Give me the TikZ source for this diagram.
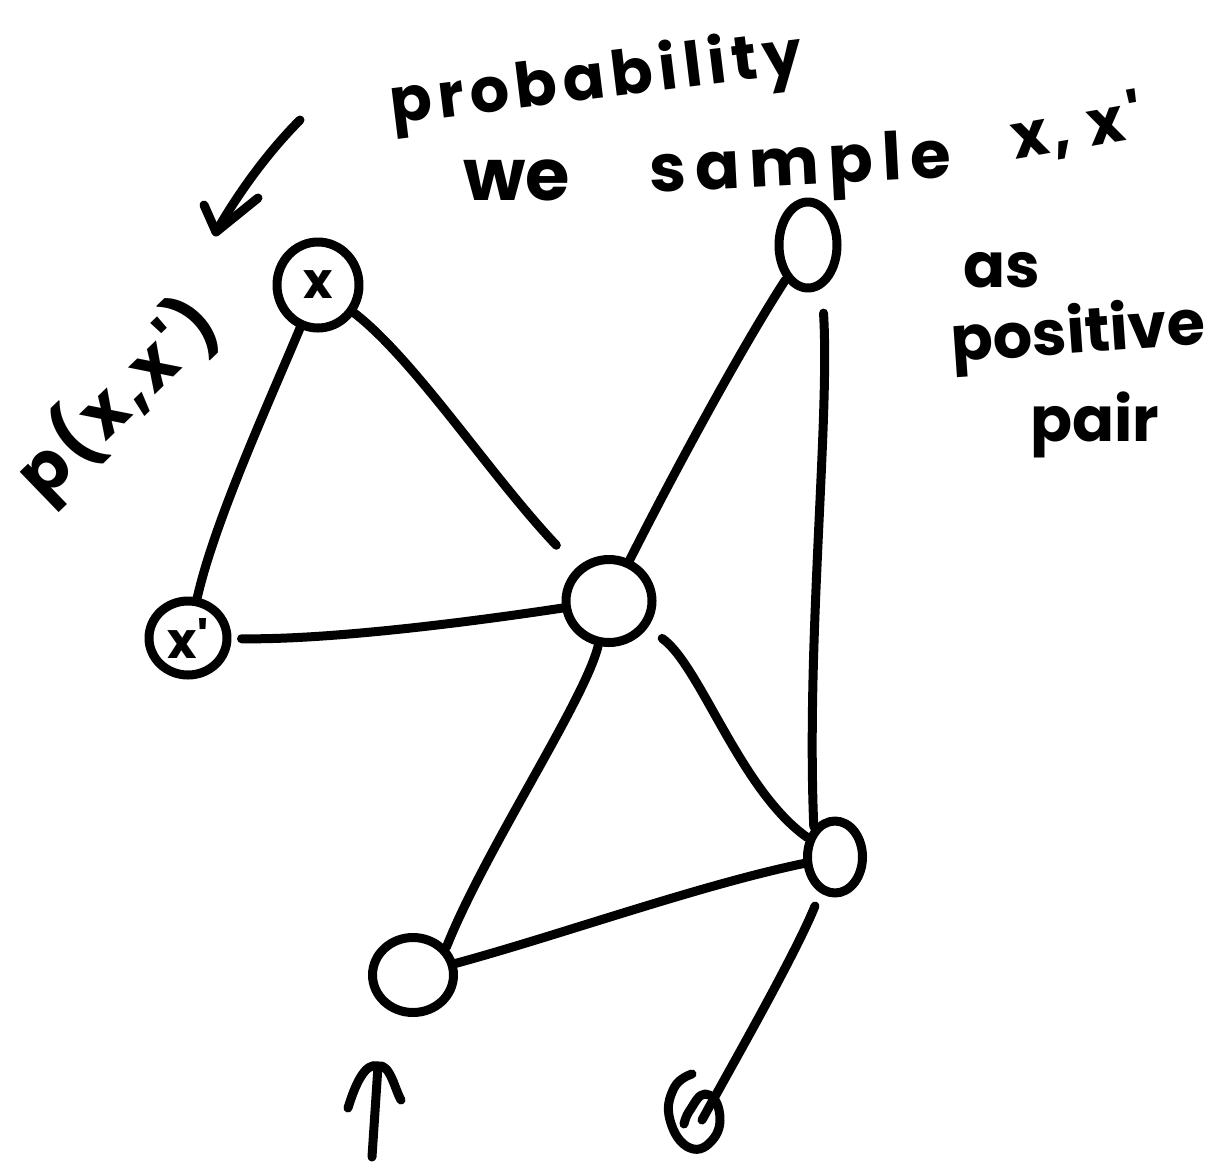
\documentclass[tikz,border=0pt]{standalone}
\usepackage{fontspec}
\newfontfamily\hw{Poppins}
\usetikzlibrary{shapes.geometric}
\newcommand{\hwsize}[2]{\hw\bfseries\fontsize{#1}{#1}\selectfont\addfontfeature{LetterSpace=#2}}
\begin{document}
\begin{tikzpicture}[x=1pt,y=-1pt,
  pen/.style={line width=9pt,line cap=round,line join=round},
  vert/.style={draw,ellipse,pen,inner sep=0pt,font=\hw\bfseries\fontsize{50}{50}\selectfont},
  hand/.style={inner sep=0pt,font=\hwsize{62}{0}},
]
\useasboundingbox (0,0) rectangle (1221,1163);

% vertices
\node[vert,minimum width=82pt,minimum height=86pt] (x) at (318,285) {x};
\node[vert,minimum width=78pt,minimum height=74pt] (xp) at (188,638) {x'};
\node[vert,minimum width=58pt,minimum height=86pt] (tr) at (808,245) {};
\node[vert,minimum width=86pt,minimum height=83pt] (c) at (609,601) {};
\node[vert,minimum width=55pt,minimum height=72pt] (r) at (835,857) {};
\node[vert,minimum width=81pt,minimum height=75pt] (bl) at (413,975) {};
\coordinate (lp) at (702,1120);

% edges
\draw[pen] (x) .. controls (270,400) and (215,520) .. (xp);
\draw[pen,shorten >=30pt] (x) .. controls (415,360) and (490,475) .. (c);
\draw[pen,shorten <=10pt] (xp) .. controls (330,640) and (470,622) .. (c);
\draw[pen] (c) .. controls (670,480) and (740,350) .. (tr);
\draw[pen,shorten <=25pt] (tr.-72) .. controls (830,420) and (806,640) .. (r.125);
\draw[pen,shorten <=18pt] (c) .. controls (700,665) and (740,790) .. (r);
\draw[pen] (c) .. controls (585,700) and (485,850) .. (bl.40);
\draw[pen] (bl) .. controls (560,935) and (700,885) .. (r);
\draw[pen,shorten <=14pt] (r) .. controls (795,955) and (735,1060) .. (lp);

% loop at the bottom
\draw[pen] plot[smooth,tension=0.8] coordinates {(692,1074) (674,1088) (670,1120) (690,1148) (714,1138) (719,1110) (705,1094) (690,1110) (684,1124)};

% arrow top-left
\coordinate (a1) at (300,120);
\coordinate (a2) at (216,232);
\draw[pen] (a1) .. controls (270,150) and (240,190) .. (a2);
\draw[pen] (204,205) -- (a2) -- (258,198);

% arrow bottom
\coordinate (b1) at (372,1157);
\coordinate (b2) at (378,1066);
\draw[pen] (b1) -- (b2);
\draw[pen] (348,1108) .. controls (355,1085) and (365,1062) .. (b2) .. controls (390,1063) and (395,1090) .. (401,1100);

% texts
\node[hand,font=\hwsize{62}{10},rotate=7,anchor=base west] (t1) at (392,124) {probability};
\node[hand,font=\hwsize{72}{0},anchor=base west] (t2) at (463,200) {we};
\node[hand,font=\hwsize{66}{14},rotate=3,anchor=base west] (t3) at (650,193) {sample};
\node[hand,font=\hwsize{62}{8},rotate=10,anchor=base west] (t4) at (1015,160) {x, x'};
\node[hand,anchor=base west] (t5) at (963,287) {as};
\node[hand,rotate=4,anchor=base west] (t6) at (952,362) {positive};
\node[hand,anchor=base west] (t7) at (1030,441) {pair};
\node[hand,font=\hwsize{68}{6},rotate=44] (t8) at (118,400) {p(x,x')};
\end{tikzpicture}
\end{document}
